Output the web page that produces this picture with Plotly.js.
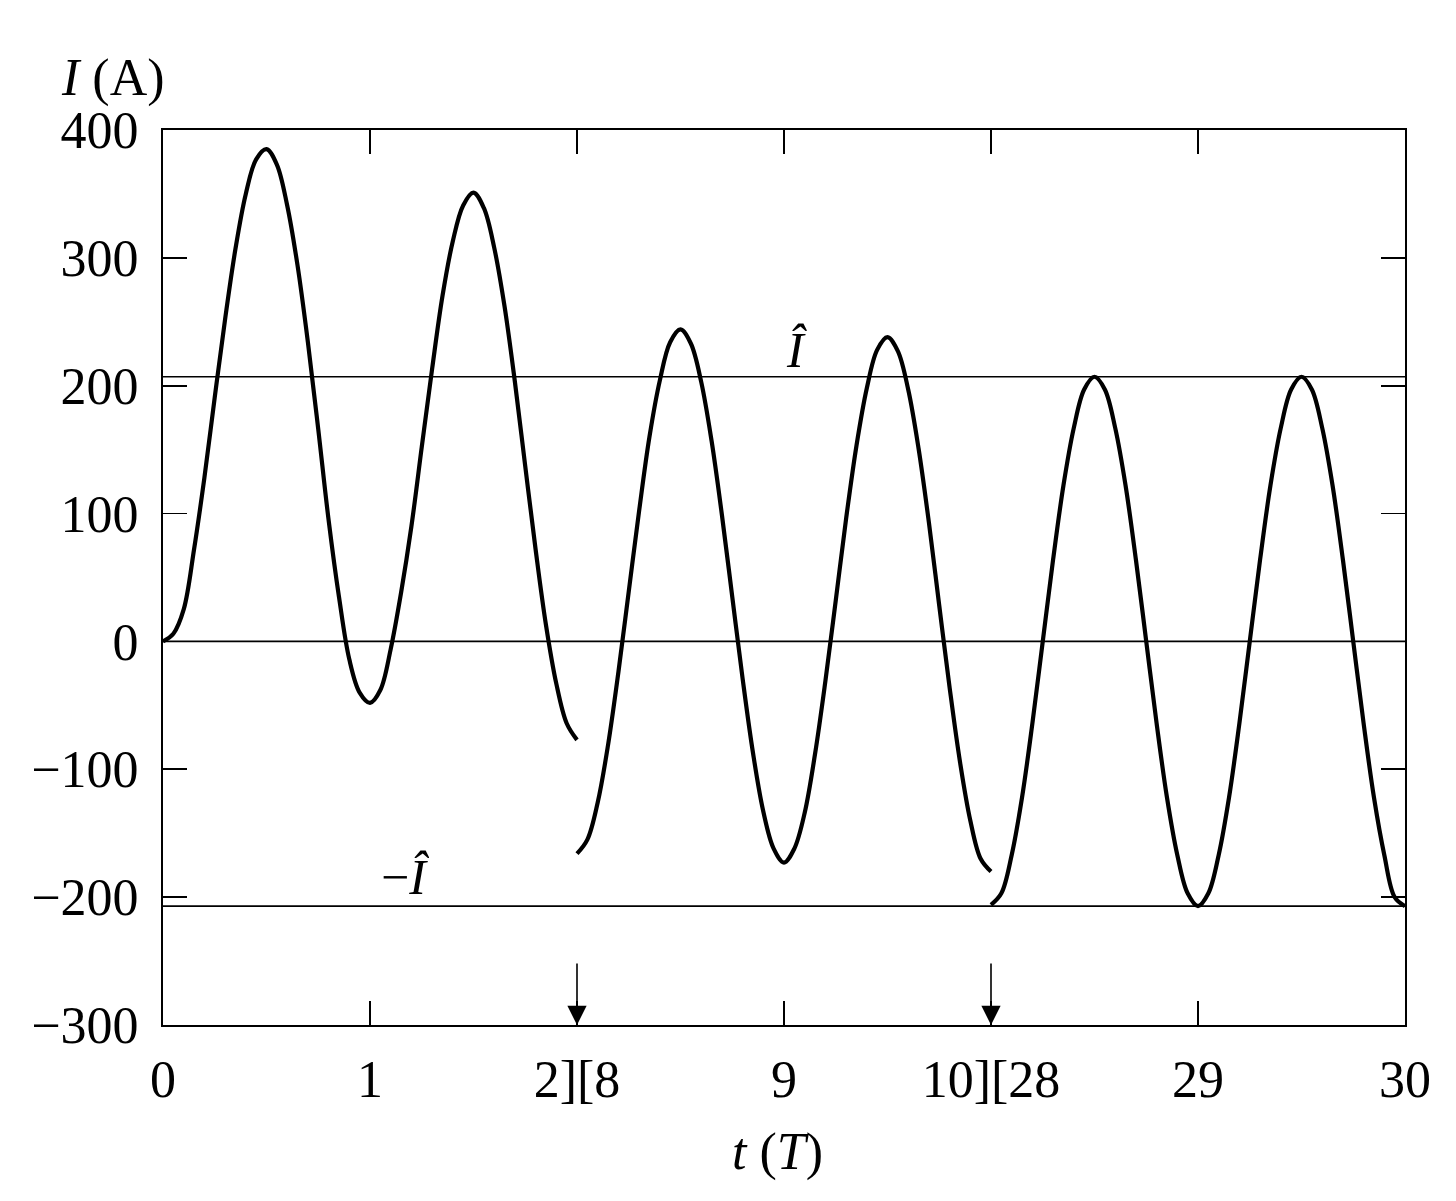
<!DOCTYPE html>
<html>
<head>
<meta charset="utf-8">
<script src="https://cdn.plot.ly/plotly-3.0.1.min.js"></script>
<style>
  html, body { margin: 0; padding: 0; background: #fff; }
  #chart { width: 1456px; height: 1201px; }
</style>
</head>
<body>
<div id="chart"></div>
<script>
// ---- Data ----
const IHAT = 207; // amplitude of steady-state current, A

// segment 1: t = 0 .. 2 T
const t1 = [0.00,0.05,0.10,0.15,0.20,0.25,0.30,0.35,0.40,0.45,0.50,0.55,0.60,0.65,0.70,0.75,0.80,0.85,0.90,0.95,
            1.00,1.05,1.10,1.15,1.20,1.25,1.30,1.35,1.40,1.45,1.50,1.55,1.60,1.65,1.70,1.75,1.80,1.85,1.90,1.95,2.00];
const i1 = [0,6,25,72,128,191,252,307,350,377,385,373,341,294,234,166,95,35,-14,-40,
            -48,-38,-6,38,90,152,213,270,313,341,351,339,308,262,203,137,72,13,-33,-64,-77];

// segment 2: t = 8 .. 10 T
const t2 = [8.00,8.05,8.10,8.15,8.20,8.25,8.30,8.35,8.40,8.45,8.50,8.55,8.60,8.65,8.70,8.75,8.80,8.85,8.90,8.95,
            9.00,9.05,9.10,9.15,9.20,9.25,9.30,9.35,9.40,9.45,9.50,9.55,9.60,9.65,9.70,9.75,9.80,9.85,9.90,9.95,10.00];
const i2 = [-166,-155,-126,-81,-24,39,102,160,204,234,244,233,203,157,99,35,-29,-87,-133,-162,
            -173,-162,-134,-88,-31,32,96,153,198,228,238,227,197,151,93,28,-36,-94,-140,-170,-180];

// segment 3: t = 28 .. 30 T
const t3 = [28.00,28.05,28.10,28.15,28.20,28.25,28.30,28.35,28.40,28.45,28.50,28.55,28.60,28.65,28.70,28.75,28.80,28.85,28.90,28.95,
            29.00,29.05,29.10,29.15,29.20,29.25,29.30,29.35,29.40,29.45,29.50,29.55,29.60,29.65,29.70,29.75,29.80,29.85,29.90,29.95,30.00];
const i3 = [-206,-197,-167,-122,-64,0,64,122,167,197,207,197,167,122,64,0,-64,-122,-167,-197,
            -207,-197,-167,-122,-64,0,64,122,167,197,207,197,167,122,64,0,-64,-122,-167,-200,-207];

// broken time axis: each shown window is 2 T wide
const segStarts = [0, 8, 28];
const tickPositions = [0, 1, 2, 3, 4, 5, 6];
const tickLabels = ['0', '1', '2][8', '9', '10][28', '29', '30'];
const arrowPositions = [2, 4];

function toAxis(ts, segIndex) {
  return ts.map(t => t - segStarts[segIndex] + 2 * segIndex);
}

const FONT = 'Liberation Serif, Times New Roman, serif';

const lineStyle = { color: '#000', width: 4.2, shape: 'spline', smoothing: 1 };
const traces = [[t1, i1], [t2, i2], [t3, i3]].map((pair, k) => ({
  x: toAxis(pair[0], k),
  y: pair[1],
  type: 'scatter',
  mode: 'lines',
  line: lineStyle,
  hoverinfo: 'skip',
  showlegend: false
}));

const hLines = [0, IHAT, -IHAT].map(v => ({
  type: 'line', xref: 'paper', yref: 'y',
  x0: 0, x1: 1, y0: v, y1: v,
  line: { color: '#000', width: 1.7 },
  layer: 'below'
}));

const annotations = [
  { xref: 'paper', yref: 'paper', x: -0.040, y: 1.058, xanchor: 'center', yanchor: 'middle',
    text: '<i>I</i> (A)', showarrow: false, font: { family: FONT, size: 52, color: '#000' } },
  { xref: 'paper', yref: 'paper', x: 0.495, y: -0.142, xanchor: 'center', yanchor: 'middle',
    text: '<i>t</i> (<i>T</i>)', showarrow: false, font: { family: FONT, size: 52, color: '#000' } },
  { xref: 'x', yref: 'y', x: 3.06, y: 228, xanchor: 'center', yanchor: 'middle',
    text: '<i>Î</i>', showarrow: false, font: { family: FONT, size: 50, color: '#000' } },
  { xref: 'x', yref: 'y', x: 1.17, y: -184, xanchor: 'center', yanchor: 'middle',
    text: '\u2212<i>Î</i>', showarrow: false, font: { family: FONT, size: 50, color: '#000' } }
].concat(arrowPositions.map(p => ({
  xref: 'x', yref: 'y', x: p, y: -300, text: '', showarrow: true,
  ax: 0, ay: -63, axref: 'pixel', ayref: 'pixel',
  arrowhead: 2, arrowsize: 2.4, arrowwidth: 1.6, arrowcolor: '#000', standoff: 0
})));

const layout = {
  width: 1456, height: 1201,
  margin: { l: 163, r: 51, t: 130, b: 176 },
  paper_bgcolor: '#fff', plot_bgcolor: '#fff',
  font: { family: FONT, size: 52, color: '#000' },
  showlegend: false,
  xaxis: {
    range: [0, 6], tickmode: 'array', tickvals: tickPositions, ticktext: tickLabels,
    showgrid: false, zeroline: false, showline: true, mirror: 'ticks',
    linecolor: '#000', linewidth: 2, ticks: 'inside', ticklen: 24, tickwidth: 1.6, tickcolor: '#000',
    tickfont: { family: FONT, size: 52, color: '#000' }, ticklabelstandoff: 8
  },
  yaxis: {
    range: [-300, 400], tickmode: 'linear', tick0: -300, dtick: 100,
    showgrid: false, zeroline: false, showline: true, mirror: 'ticks',
    linecolor: '#000', linewidth: 2, ticks: 'inside', ticklen: 24, tickwidth: 1.6, tickcolor: '#000',
    tickfont: { family: FONT, size: 52, color: '#000' }, ticklabelstandoff: 12
  },
  shapes: hLines,
  annotations: annotations
};

Plotly.newPlot('chart', traces, layout, { staticPlot: true, displayModeBar: false });
</script>
</body>
</html>
